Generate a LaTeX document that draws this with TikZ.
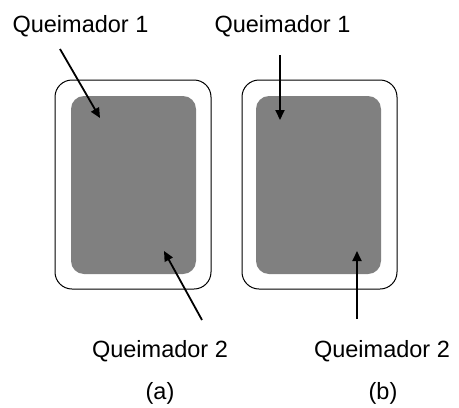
\documentclass[tikz,border=0pt]{standalone}
\usepackage{fontspec}
\setmainfont{Liberation Sans}
\usetikzlibrary{arrows.meta}
\definecolor{burner}{HTML}{808080}
\begin{document}
\begin{tikzpicture}[x=1pt,y=-1pt,
  outerbox/.style={draw=black,line width=1pt,rounded corners=17pt},
  innerbox/.style={fill=burner,draw=none,rounded corners=13pt},
  lbl/.style={inner sep=0pt,anchor=base,font=\fontsize{23.5}{28}\selectfont},
  arr/.style={line width=1.8pt,-{Triangle[length=10pt,width=9pt]}}]
\useasboundingbox (0,0) rectangle (459,408);
% boxes (a)
\draw[outerbox] (55,80) rectangle (211,289);
\fill[innerbox] (71,96) rectangle (196,274);
% boxes (b)
\draw[outerbox] (242,80) rectangle (397,289);
\fill[innerbox] (256,96) rectangle (381,274);
% labels
\node[lbl] (q1a) at (80.5,32) {Queimador 1};
\node[lbl] (q1b) at (282.5,32) {Queimador 1};
\node[lbl] (q2a) at (160,357) {Queimador 2};
\node[lbl] (q2b) at (382,357) {Queimador 2};
\node[lbl] (capa) at (160,399) {(a)};
\node[lbl] (capb) at (383,399) {(b)};
% arrow ends
\coordinate (a1s) at (60,49);
\coordinate (a1e) at (100,118);
\coordinate (a2s) at (202,320);
\coordinate (a2e) at (164,251);
\coordinate (b1s) at (280,55);
\coordinate (b1e) at (280,120);
\coordinate (b2s) at (357,319);
\coordinate (b2e) at (357,251);
\draw[arr] (a1s) -- (a1e);
\draw[arr] (a2s) -- (a2e);
\draw[arr] (b1s) -- (b1e);
\draw[arr] (b2s) -- (b2e);
\end{tikzpicture}
\end{document}
